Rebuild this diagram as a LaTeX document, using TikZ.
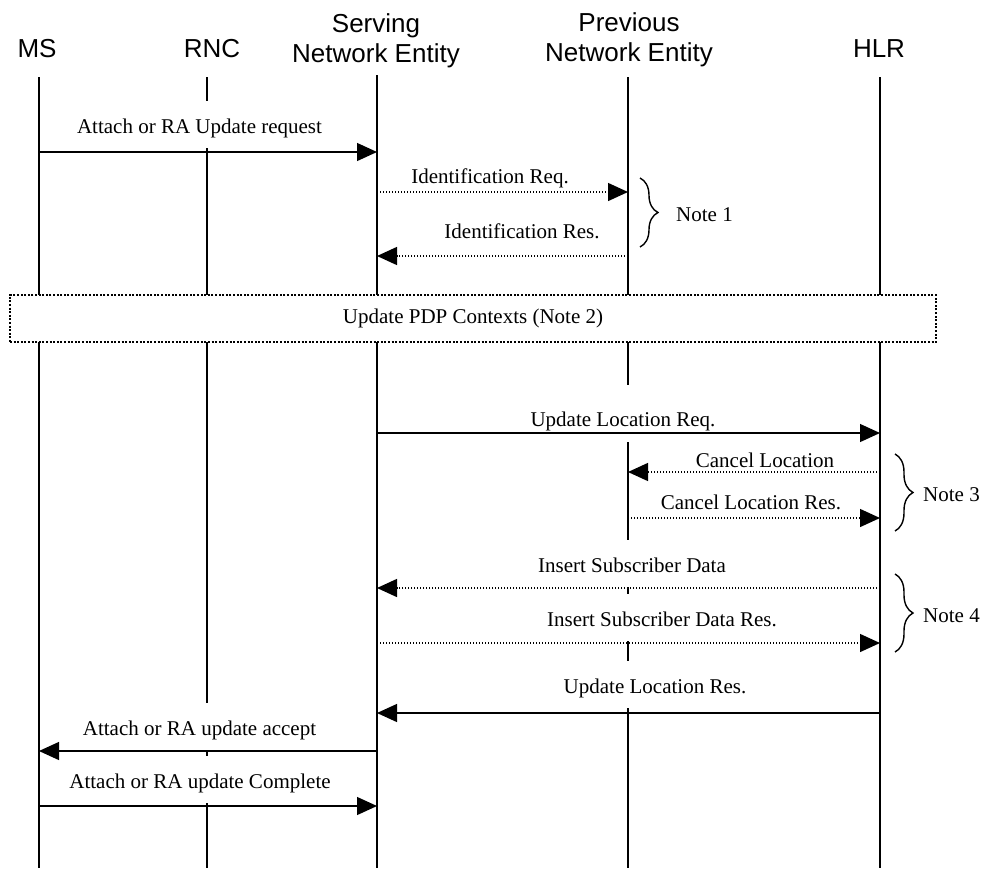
\documentclass[tikz,border=0pt]{standalone}
\usepackage{fontspec}
\setmainfont{Liberation Serif}
\newfontfamily\hdrfont{Liberation Sans}
\usetikzlibrary{arrows.meta,decorations.pathreplacing}
\begin{document}
\begin{tikzpicture}[x=1pt,y=-1pt,
  hdr/.style={font=\hdrfont\fontsize{26}{30}\selectfont, align=center, inner sep=0pt, text depth=0pt, anchor=south},
  lbl/.style={font=\fontsize{21}{25}\selectfont, fill=white, inner xsep=4pt, inner ysep=0pt, text height=32pt, text depth=15pt, anchor=base},
  notetxt/.style={font=\fontsize{21}{25}\selectfont, inner sep=0pt, anchor=base west},
  life/.style={line width=1.5pt},
  msg/.style={line width=1.3pt, -{Triangle[length=20pt,width=18pt]}},
  dmsg/.style={line width=1.4pt, dash pattern=on 1.4pt off 1.6pt, -{Triangle[length=20pt,width=18pt]}},
  brc/.style={line width=1.4pt, decorate, decoration={brace, amplitude=18pt}},
  pdp/.style={draw, line width=2pt, dash pattern=on 2pt off 1.6pt, fill=white, inner sep=0pt,
    font=\fontsize{21}{25}\selectfont, minimum width=926pt, minimum height=47pt}
]
\useasboundingbox (0,0) rectangle (983,868);

% headers
\node[hdr] (hms)  at (37,58)  {MS};
\node[hdr] (hrnc) at (212,58) {RNC};
\node[hdr] (hsne) at (376,63) {Serving\\Network Entity};
\node[hdr] (hpne) at (629,62) {Previous\\Network Entity};
\node[hdr] (hhlr) at (879,58) {HLR};

% lifelines
\coordinate (ms)  at (39,77);  \coordinate (msE)  at (39,868);
\coordinate (rnc) at (207,77); \coordinate (rncE) at (207,868);
\coordinate (sne) at (377,75); \coordinate (sneE) at (377,868);
\coordinate (pne) at (628,77); \coordinate (pneE) at (628,868);
\coordinate (hlr) at (880,77); \coordinate (hlrE) at (880,868);
\draw[life] (ms) -- (msE);
\draw[life] (rnc) -- (rncE);
\draw[life] (sne) -- (sneE);
\draw[life] (pne) -- (pneE);
\draw[life] (hlr) -- (hlrE);

% update PDP contexts box
\node[pdp] (pdpbox) at (473,318.5) {Update PDP Contexts (Note 2)};

% labels
\node[lbl] (l1)  at (199.5,133) {Attach or RA Update request};
\node[lbl] (l2)  at (490,183)   {Identification Req.};
\node[lbl] (l3)  at (522,238)   {Identification Res.};
\node[lbl, text height=42pt] (l4) at (623,426.5) {Update Location Req.};
\node[lbl] (l5)  at (765,467)   {Cancel Location};
\node[lbl] (l6)  at (751,509)   {Cancel Location Res.};
\node[lbl] (l7)  at (632,572)   {Insert Subscriber Data};
\node[lbl] (l8)  at (662,626)   {Insert Subscriber Data Res.};
\node[lbl] (l9)  at (655,693)   {Update Location Res.};
\node[lbl] (l10) at (199.5,735) {Attach or RA update accept};
\node[lbl] (l11) at (200,788)   {Attach or RA update Complete};

% message rows
\coordinate (r1) at (0,152);
\coordinate (r2) at (0,192);
\coordinate (r3) at (0,256);
\coordinate (r4) at (0,433);
\coordinate (r5) at (0,472);
\coordinate (r6) at (0,518);
\coordinate (r7) at (0,588);
\coordinate (r8) at (0,643);
\coordinate (r9) at (0,713);
\coordinate (r10) at (0,751);
\coordinate (r11) at (0,806);

\draw[msg]  (ms |- r1) -- (sne |- r1);
\draw[dmsg] (sne |- r2) -- (pne |- r2);
\draw[dmsg] (pne |- r3) -- (sne |- r3);
\draw[msg]  (sne |- r4) -- (hlr |- r4);
\draw[dmsg] (hlr |- r5) -- (pne |- r5);
\draw[dmsg] (pne |- r6) -- (hlr |- r6);
\draw[dmsg] (hlr |- r7) -- (sne |- r7);
\draw[dmsg] (sne |- r8) -- (hlr |- r8);
\draw[msg]  (hlr |- r9) -- (sne |- r9);
\draw[msg]  (sne |- r10) -- (ms |- r10);
\draw[msg]  (ms |- r11) -- (sne |- r11);

% braces and notes
\coordinate (b1a) at (640,178); \coordinate (b1b) at (640,247);
\coordinate (b3a) at (895,454); \coordinate (b3b) at (895,531);
\coordinate (b4a) at (895,574); \coordinate (b4b) at (895,652);
\draw[brc] (b1a) -- (b1b);
\draw[brc] (b3a) -- (b3b);
\draw[brc] (b4a) -- (b4b);
\node[notetxt] (n1) at (676,221) {Note 1};
\node[notetxt] (n3) at (923,501) {Note 3};
\node[notetxt] (n4) at (923,622) {Note 4};
\end{tikzpicture}
\end{document}
